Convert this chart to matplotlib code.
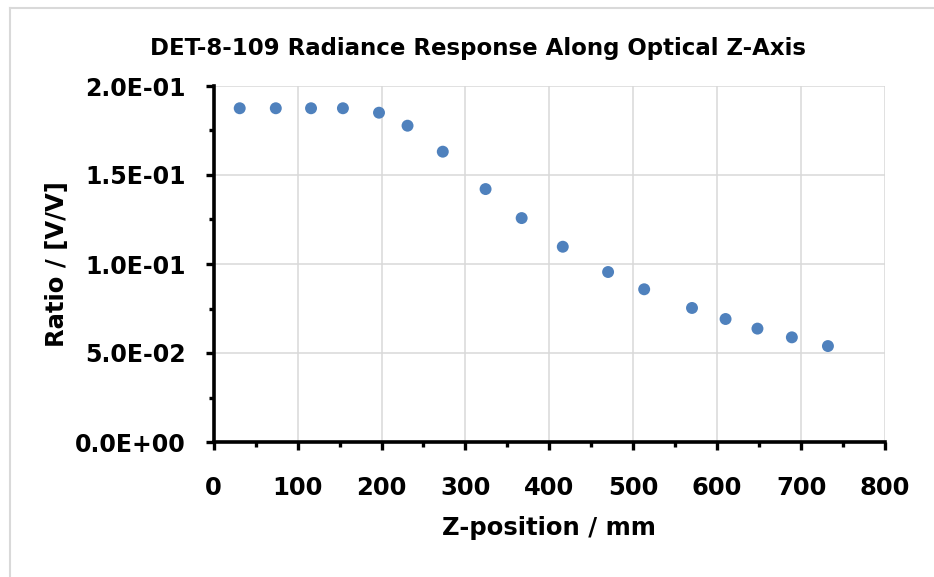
import matplotlib
matplotlib.use("Agg")
import matplotlib.pyplot as plt
from matplotlib.ticker import MultipleLocator, FuncFormatter
from matplotlib.lines import Line2D

# Data
z_position_mm = [31, 74, 116, 154, 197, 231, 273, 324, 367, 416, 470, 513, 570, 610, 648, 689, 732]
ratio_vv = [0.1875, 0.1875, 0.1875, 0.1875, 0.1850, 0.1777, 0.1631, 0.1421, 0.1258,
            0.1097, 0.0955, 0.0858, 0.0753, 0.0691, 0.0637, 0.0588, 0.0539]

title = "DET-8-109 Radiance Response Along Optical Z-Axis"
xlabel = "Z-position / mm"
ylabel = "Ratio / [V/V]"

plt.rcParams['font.family'] = ["DejaVu Sans"]

W, H = 934, 577
fig = plt.figure(figsize=(W / 100, H / 100), dpi=100)
x0, x1, y0, y1 = 213.7, 885.0, 442.0, 86.0
ax = fig.add_axes([x0 / W, 1 - y0 / H, (x1 - x0) / W, (y0 - y1) / H])

ax.scatter(z_position_mm, ratio_vv, s=8.6 ** 2, color="#4f81bd", edgecolors="none", zorder=3)

ax.set_xlim(0, 800)
ax.set_ylim(0, 0.2)
ax.xaxis.set_major_locator(MultipleLocator(100))
ax.xaxis.set_minor_locator(MultipleLocator(50))
ax.yaxis.set_major_locator(MultipleLocator(0.05))
ax.yaxis.set_minor_locator(MultipleLocator(0.025))
ax.yaxis.set_major_formatter(FuncFormatter(lambda v, p: f"{v:.1E}"))

ax.grid(True, which="major", color="#d9d9d9", linewidth=1.1, zorder=0)
ax.set_axisbelow(True)
for s in ("top", "right"):
    ax.spines[s].set_visible(False)
for s in ("left", "bottom"):
    ax.spines[s].set_linewidth(2.6)
    ax.spines[s].set_color("black")

ax.tick_params(which="major", direction="out", length=6, width=2.4,
               labelsize=17.5, colors="black")
ax.tick_params(axis="x", which="major", pad=18.5)
ax.tick_params(axis="y", which="major", pad=14, labelsize=17)
ax.tick_params(which="minor", direction="out", length=3.8, width=2.4)
for lab in ax.get_xticklabels() + ax.get_yticklabels():
    lab.set_fontweight("bold")

ax.set_xlabel(xlabel, fontsize=17.5, fontweight="bold", va="center")
ax.set_ylabel(ylabel, fontsize=17.5, fontweight="bold", va="center")
ax.xaxis.set_label_coords(0.5, -(528 - y0) / (y0 - y1))
ax.yaxis.set_label_coords((57 - x0) / (x1 - x0), 0.5)
fig.text(478 / W, 1 - 48 / H, title, fontsize=16.5, fontweight="bold", ha="center", va="center")

# chart-area border
fig.add_artist(Line2D([10 / W, 10 / W], [0, 1 - 8 / H], color="#d9d9d9", linewidth=1.5))
fig.add_artist(Line2D([10 / W, 1], [1 - 8 / H, 1 - 8 / H], color="#d9d9d9", linewidth=1.5))

fig.savefig("out.png", dpi=100)
